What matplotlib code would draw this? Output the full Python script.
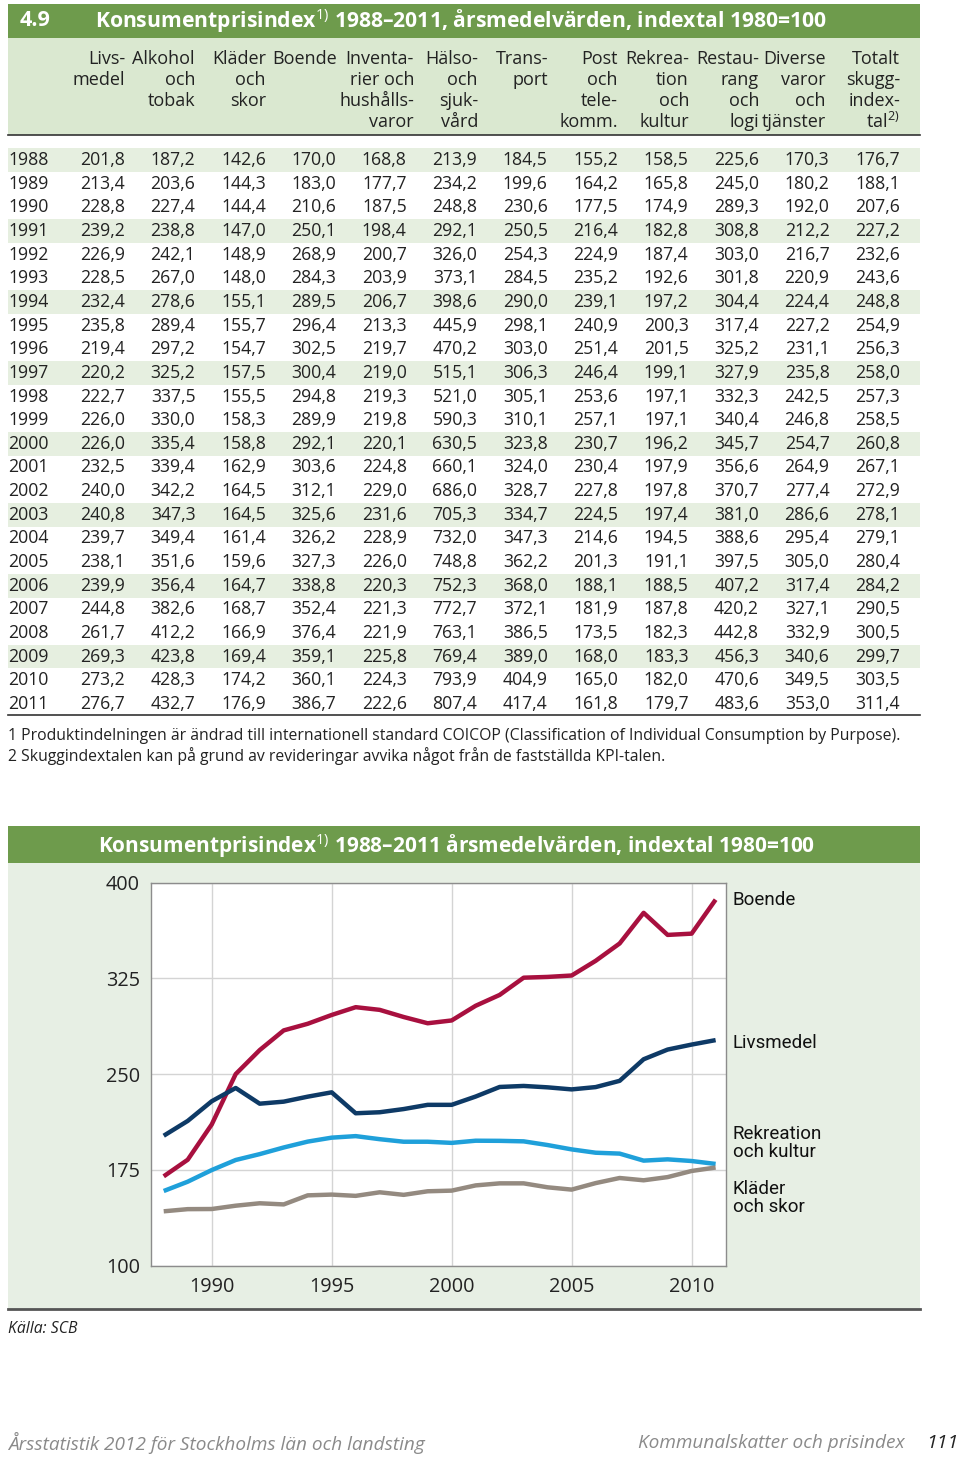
import matplotlib.pyplot as plt
from matplotlib.patches import Rectangle

plt.rcParams['font.family'] = ['Open Sans', 'DejaVu Sans']
plt.rcParams['mathtext.fontset'] = 'custom'
plt.rcParams['mathtext.rm'] = 'Open Sans'
plt.rcParams['mathtext.bf'] = 'Open Sans:bold'

# table data
years = list(range(1988, 2012))
livsmedel = [201.8, 213.4, 228.8, 239.2, 226.9, 228.5, 232.4, 235.8, 219.4, 220.2, 222.7, 226.0,
             226.0, 232.5, 240.0, 240.8, 239.7, 238.1, 239.9, 244.8, 261.7, 269.3, 273.2, 276.7]
alkohol = [187.2, 203.6, 227.4, 238.8, 242.1, 267.0, 278.6, 289.4, 297.2, 325.2, 337.5, 330.0,
           335.4, 339.4, 342.2, 347.3, 349.4, 351.6, 356.4, 382.6, 412.2, 423.8, 428.3, 432.7]
klader = [142.6, 144.3, 144.4, 147.0, 148.9, 148.0, 155.1, 155.7, 154.7, 157.5, 155.5, 158.3,
          158.8, 162.9, 164.5, 164.5, 161.4, 159.6, 164.7, 168.7, 166.9, 169.4, 174.2, 176.9]
boende = [170.0, 183.0, 210.6, 250.1, 268.9, 284.3, 289.5, 296.4, 302.5, 300.4, 294.8, 289.9,
          292.1, 303.6, 312.1, 325.6, 326.2, 327.3, 338.8, 352.4, 376.4, 359.1, 360.1, 386.7]
inventarier = [168.8, 177.7, 187.5, 198.4, 200.7, 203.9, 206.7, 213.3, 219.7, 219.0, 219.3, 219.8,
               220.1, 224.8, 229.0, 231.6, 228.9, 226.0, 220.3, 221.3, 221.9, 225.8, 224.3, 222.6]
halso = [213.9, 234.2, 248.8, 292.1, 326.0, 373.1, 398.6, 445.9, 470.2, 515.1, 521.0, 590.3,
         630.5, 660.1, 686.0, 705.3, 732.0, 748.8, 752.3, 772.7, 763.1, 769.4, 793.9, 807.4]
transport = [184.5, 199.6, 230.6, 250.5, 254.3, 284.5, 290.0, 298.1, 303.0, 306.3, 305.1, 310.1,
             323.8, 324.0, 328.7, 334.7, 347.3, 362.2, 368.0, 372.1, 386.5, 389.0, 404.9, 417.4]
post = [155.2, 164.2, 177.5, 216.4, 224.9, 235.2, 239.1, 240.9, 251.4, 246.4, 253.6, 257.1,
        230.7, 230.4, 227.8, 224.5, 214.6, 201.3, 188.1, 181.9, 173.5, 168.0, 165.0, 161.8]
rekreation = [158.5, 165.8, 174.9, 182.8, 187.4, 192.6, 197.2, 200.3, 201.5, 199.1, 197.1, 197.1,
              196.2, 197.9, 197.8, 197.4, 194.5, 191.1, 188.5, 187.8, 182.3, 183.3, 182.0, 179.7]
restaurang = [225.6, 245.0, 289.3, 308.8, 303.0, 301.8, 304.4, 317.4, 325.2, 327.9, 332.3, 340.4,
              345.7, 356.6, 370.7, 381.0, 388.6, 397.5, 407.2, 420.2, 442.8, 456.3, 470.6, 483.6]
diverse = [170.3, 180.2, 192.0, 212.2, 216.7, 220.9, 224.4, 227.2, 231.1, 235.8, 242.5, 246.8,
           254.7, 264.9, 277.4, 286.6, 295.4, 305.0, 317.4, 327.1, 332.9, 340.6, 349.5, 353.0]
totalt = [176.7, 188.1, 207.6, 227.2, 232.6, 243.6, 248.8, 254.9, 256.3, 258.0, 257.3, 258.5,
          260.8, 267.1, 272.9, 278.1, 279.1, 280.4, 284.2, 290.5, 300.5, 299.7, 303.5, 311.4]

columns = [livsmedel, alkohol, klader, boende, inventarier, halso, transport, post,
           rekreation, restaurang, diverse, totalt]
headers = [["Livs-", "medel"], ["Alkohol", "och", "tobak"], ["Kläder", "och", "skor"], ["Boende"],
           ["Inventa-", "rier och", "hushålls-", "varor"], ["Hälso-", "och", "sjuk-", "vård"],
           ["Trans-", "port"], ["Post", "och", "tele-", "komm."], ["Rekrea-", "tion", "och", "kultur"],
           ["Restau-", "rang", "och", "logi"], ["Diverse", "varor", "och", "tjänster"],
           ["Totalt", "skugg-", "index-", r"tal$^{2)}$"]]

# chart series
chart_names = ["Boende", "Livsmedel", "Rekreation\noch kultur", "Kläder\noch skor"]
chart_series = [boende, livsmedel, rekreation, klader]
chart_colors = ["#A8103F", "#0E3A66", "#1FA0DA", "#948A80"]
label_y = [900, 1043, 1143, 1198]

banner = "#6E9B4C"
header_bg = "#DAE8D0"
row_bg = "#E6EFE0"
chart_bg = "#E7EFE4"

fig = plt.figure(figsize=(9.6, 14.57), dpi=100)
bg = fig.add_axes([0, 0, 1, 1])
bg.set_xlim(0, 960)
bg.set_ylim(1457, 0)
bg.axis('off')

# table title
bg.add_patch(Rectangle((8, 4), 912, 34, color=banner, lw=0))
bg.text(20, 21, "4.9", color='white', fontsize=15.5, fontweight='bold', va='center')
bg.text(95, 21, r"Konsumentprisindex$^{1)}$ 1988–2011, årsmedelvärden, indextal 1980=100",
        color='white', fontsize=15.2, fontweight='bold', va='center')

# header
bg.add_patch(Rectangle((8, 38), 912, 97, color=header_bg, lw=0))
bg.plot([8, 920], [135, 135], color='#333333', lw=1.2)
num_right = [125 + i * 70.45 for i in range(12)]
head_right = [125, 195, 266, 337, 414, 478, 548, 618, 689, 759, 826, 900]
for hx, lines in zip(head_right, headers):
    for j, s in enumerate(lines):
        bg.text(hx, 59 + 21 * j, s, ha='right', va='center', fontsize=13, color='#222222')

# rows
row0, dy = 160, 23.65
for i, yr in enumerate(years):
    y = row0 + i * dy
    if i % 3 == 0:
        bg.add_patch(Rectangle((8, y - dy / 2), 912, dy, color=row_bg, lw=0))
    bg.text(8, y, str(yr), va='center', fontsize=12.7, color='#222222')
    for x, col in zip(num_right, columns):
        bg.text(x, y, f"{col[i]:.1f}".replace('.', ','), ha='right', va='center',
                fontsize=12.7, color='#222222')
bg.plot([8, 920], [715, 715], color='#333333', lw=1.2)
bg.text(8, 736, "1 Produktindelningen är ändrad till internationell standard COICOP "
        "(Classification of Individual Consumption by Purpose).", va='center', fontsize=11.3, color='#222222')
bg.text(8, 756, "2 Skuggindextalen kan på grund av revideringar avvika något från de fastställda KPI-talen.",
        va='center', fontsize=11.3, color='#222222')

# chart frame
bg.add_patch(Rectangle((8, 826), 912, 37, color=banner, lw=0))
bg.text(98, 846, r"Konsumentprisindex$^{1)}$ 1988–2011 årsmedelvärden, indextal 1980=100",
        color='white', fontsize=15.0, fontweight='bold', va='center')
bg.add_patch(Rectangle((8, 863), 912, 446, color=chart_bg, lw=0))
bg.plot([8, 920], [1309, 1309], color='#555555', lw=2)
for name, yl in zip(chart_names, label_y):
    bg.text(733, yl, name, va='center', fontsize=13.5, color='#111111',
            family=['Roboto', 'DejaVu Sans'], linespacing=1.05)

bg.text(8, 1329, "Källa: SCB", va='center', fontsize=11.3, style='italic', color='#222222')
bg.text(8, 1443, "Årsstatistik 2012 för Stockholms län och landsting", va='center',
        fontsize=13.7, style='italic', color='#8a8a8a')
bg.text(905, 1443, "Kommunalskatter och prisindex", va='center', ha='right',
        fontsize=13.7, style='italic', color='#8a8a8a')
bg.text(958, 1443, "111", va='center', ha='right', fontsize=14, style='italic', color='#222222')

# line chart
ax = fig.add_axes([151 / 960, (1457 - 1265.7) / 1457, 574.7 / 960, 383 / 1457])
ax.set_facecolor('white')
for vals, c in zip(chart_series, chart_colors):
    ax.plot(years, vals, color=c, lw=3.2, solid_capstyle='butt', zorder=3)
ax.set_xlim(1987.47, 2011.42)
ax.set_ylim(100, 400)
ax.set_yticks([100, 175, 250, 325, 400])
ax.set_xticks([1990, 1995, 2000, 2005, 2010])
ax.grid(True, color='#d4d4d4', lw=1)
ax.tick_params(length=0, labelsize=14.3, colors='#222222', pad=8)
for sp in ax.spines.values():
    sp.set_color('#8c8c8c')
    sp.set_linewidth(1)

fig.savefig('out.png', dpi=100)
